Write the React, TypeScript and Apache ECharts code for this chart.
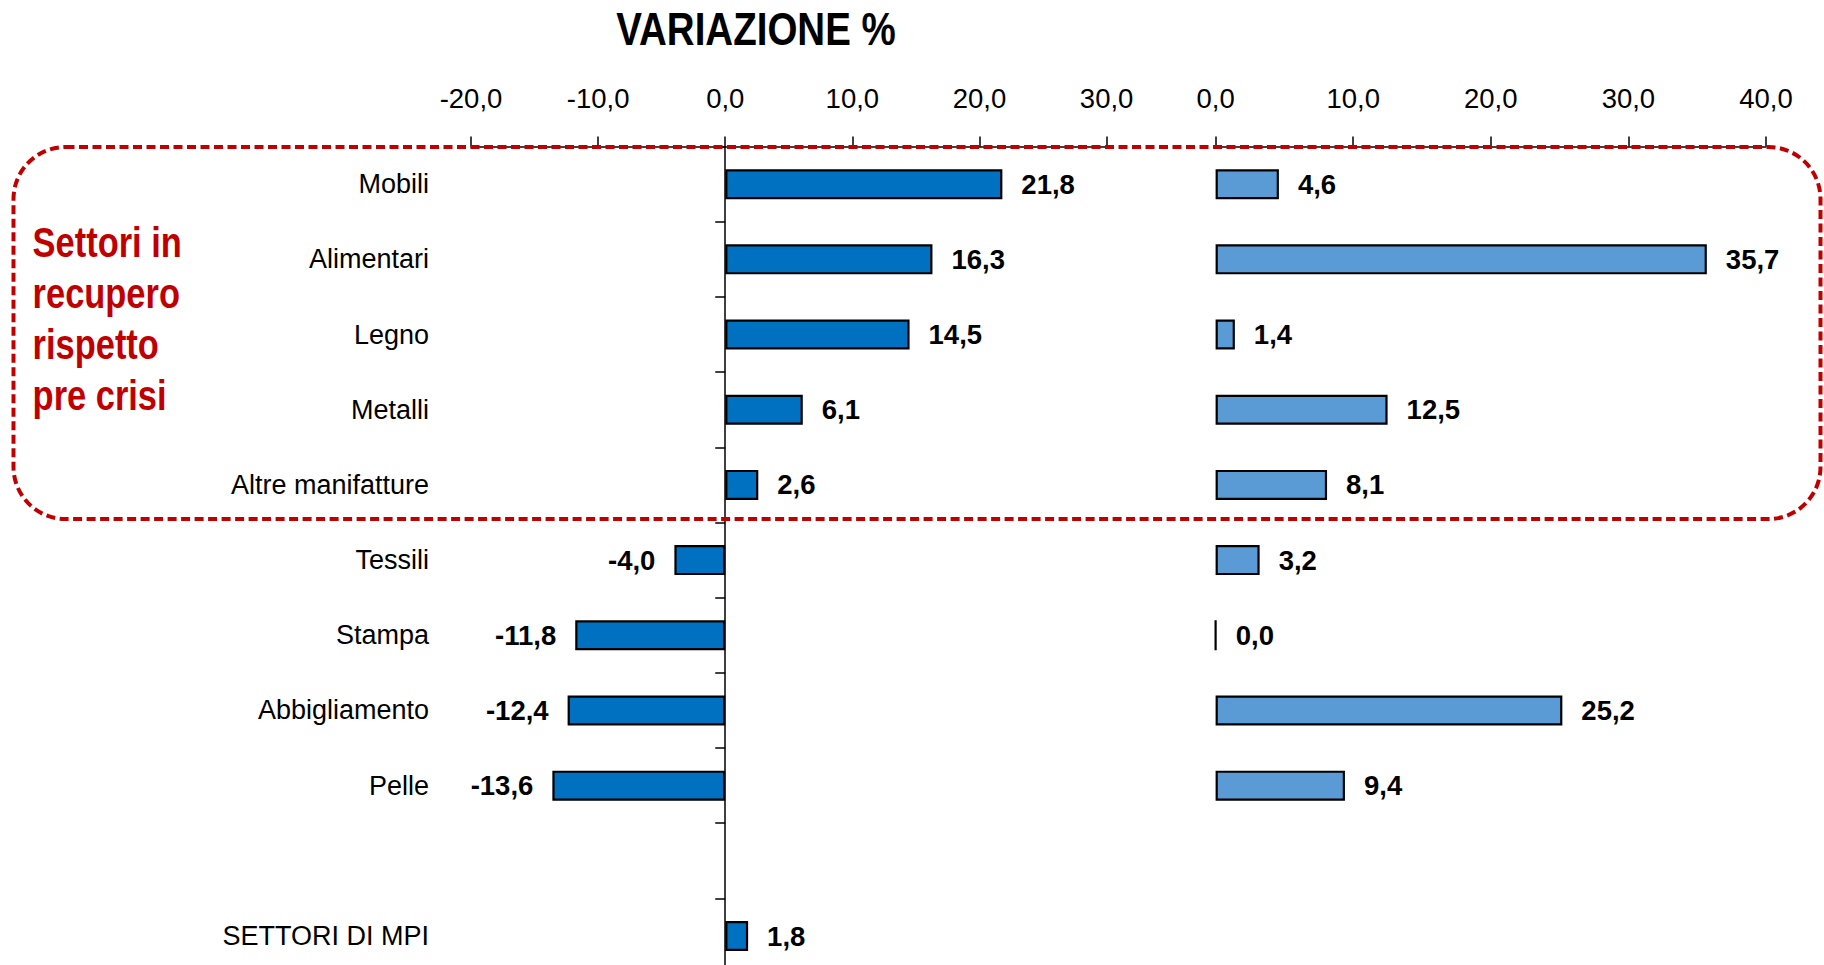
import React, { useEffect, useRef } from "react";
import * as echarts from "echarts";

const categories = [
  "Mobili",
  "Alimentari",
  "Legno",
  "Metalli",
  "Altre manifatture",
  "Tessili",
  "Stampa",
  "Abbigliamento",
  "Pelle",
  "",
  "SETTORI DI MPI",
];
const leftValues: (number | null)[] = [21.8, 16.3, 14.5, 6.1, 2.6, -4.0, -11.8, -12.4, -13.6, null, 1.8];
const rightValues: (number | null)[] = [4.6, 35.7, 1.4, 12.5, 8.1, 3.2, 0.0, 25.2, 9.4, null, null];
const leftAxisRange = { min: -20, max: 30, interval: 10 };
const rightAxisRange = { min: 0, max: 40, interval: 10 };
const titleText = "VARIAZIONE %";
const noteText = "Settori in\nrecupero\nrispetto\npre crisi";

const FONT = "'Liberation Sans', Arial, sans-serif";
const fmt = (v: number) => v.toFixed(1).replace(".", ",");

export default function App() {
  const ref = useRef<HTMLDivElement>(null);
  useEffect(() => {
    if (!ref.current) return;
    const chart = echarts.init(ref.current, null, { renderer: "svg" });
    const gridTop = 146.6;
    const gridHeight = 827;
    const mkData = (vals: (number | null)[]) =>
      vals.map((v) =>
        v === null
          ? "-"
          : {
              value: v,
              label: { position: v < 0 ? "left" : "right" },
            }
      );
    const valueLabel = {
      show: true,
      distance: 19,
      fontFamily: FONT,
      fontWeight: "bold",
      fontSize: 27.5,
      color: "#000",
      formatter: (p: any) => fmt(p.value),
    };
    const xAxisCommon = (r: any) => ({
      type: "value",
      position: "top",
      min: r.min,
      max: r.max,
      interval: r.interval,
      axisLine: { show: true, lineStyle: { color: "#000", width: 1.5 } },
      axisTick: { show: true, length: 10, lineStyle: { color: "#000", width: 1.5 } },
      splitLine: { show: false },
      axisLabel: {
        formatter: (v: number) => fmt(v),
        fontFamily: FONT,
        fontSize: 27.5,
        color: "#000",
        margin: 34,
      },
    });
    chart.setOption({
      animation: false,
      backgroundColor: "#fff",
      grid: [
        { left: 471, top: gridTop, width: 635.6, height: gridHeight, outerBoundsMode: "none", containLabel: false },
        { left: 1215.6, top: gridTop, width: 550.4, height: gridHeight, outerBoundsMode: "none", containLabel: false },
      ],
      xAxis: [
        { ...xAxisCommon(leftAxisRange), gridIndex: 0 },
        { ...xAxisCommon(rightAxisRange), gridIndex: 1 },
      ],
      yAxis: [
        {
          type: "category",
          gridIndex: 0,
          inverse: true,
          data: categories,
          axisLine: { show: true, onZero: true, lineStyle: { color: "#000", width: 1.5 } },
          axisTick: { show: true, length: 10, lineStyle: { color: "#000", width: 1.5 } },
          axisLabel: {
            fontFamily: FONT,
            fontSize: 27,
            color: "#000",
            margin: 42,
          },
        },
        {
          type: "category",
          gridIndex: 1,
          inverse: true,
          data: categories,
          axisLine: { show: false },
          axisTick: { show: false },
          axisLabel: { show: false },
        },
      ],
      series: [
        {
          type: "bar",
          xAxisIndex: 0,
          yAxisIndex: 0,
          barWidth: 30,
          data: mkData(leftValues),
          itemStyle: { color: "#0070C0", borderColor: "#000", borderWidth: 2.2 },
          label: valueLabel,
        },
        {
          type: "bar",
          xAxisIndex: 1,
          yAxisIndex: 1,
          barWidth: 30,
          data: mkData(rightValues),
          itemStyle: { color: "#5B9BD5", borderColor: "#000", borderWidth: 2.2 },
          label: valueLabel,
        },
      ],
      graphic: [
        {
          type: "text",
          x: 756,
          y: 29,
          scaleX: 0.82,
          style: {
            text: titleText,
            align: "center",
            verticalAlign: "middle",
            fontFamily: FONT,
            fontWeight: "bold",
            fontSize: 47,
            fill: "#000",
          },
        },
        {
          type: "text",
          x: 32.6,
          y: 216.5,
          scaleX: 0.82,
          style: {
            text: noteText,
            fontFamily: FONT,
            fontWeight: "bold",
            fontSize: 42,
            lineHeight: 51,
            fill: "#C00000",
          },
        },
        {
          type: "rect",
          z: 100,
          shape: { x: 13.5, y: 147, width: 1807, height: 372, r: 52 },
          style: { fill: "none", stroke: "#C00000", lineWidth: 4, lineDash: [9, 4.5] },
        },
      ],
    });
    return () => chart.dispose();
  }, []);
  return (
    <div
      ref={ref}
      style={{ position: "fixed", left: 0, top: 0, width: 1824, height: 965, background: "#fff" }}
    />
  );
}
